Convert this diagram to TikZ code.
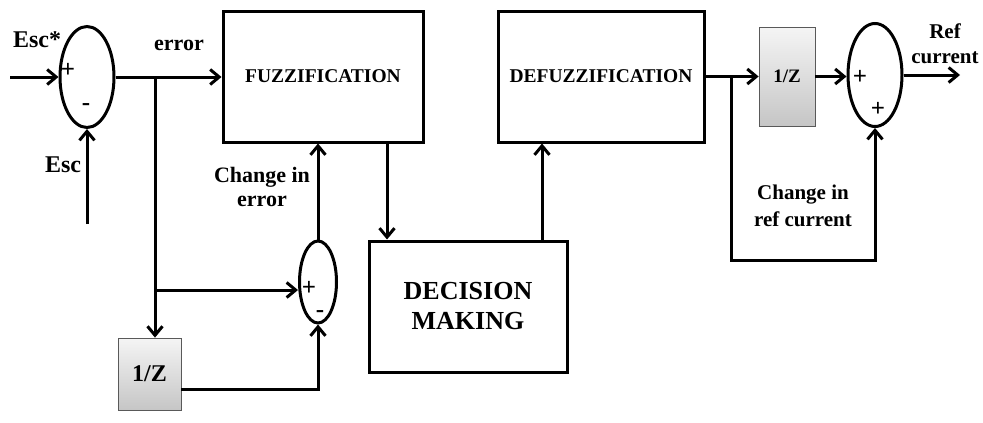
\documentclass[tikz,border=0pt]{standalone}
\usepackage{fontspec}
\setmainfont{Liberation Serif}
\usetikzlibrary{shapes.geometric,arrows.meta,calc}
\begin{document}
\begin{tikzpicture}[x=1pt,y=-1pt,
  line width=3pt,
  arr/.style={-{Straight Barb[length=9pt,width=15pt]}},
  blk/.style={draw,rectangle,inner sep=0pt,line width=3pt,font=\bfseries\fontsize{19.5}{22}\selectfont},
  sumnode/.style={draw,ellipse,inner sep=0pt,line width=3pt},
  zbox/.style={draw=gray!70!black,line width=0.8pt,rectangle,inner sep=0pt,top color=gray!8,bottom color=gray!45,font=\bfseries},
  lbl/.style={font=\bfseries\fontsize{22}{25}\selectfont,align=center,inner sep=0pt},
  sgn/.style={font=\bfseries\fontsize{25}{26}\selectfont,inner sep=0pt}]
\useasboundingbox (0,0) rectangle (983,423);

% blocks
\node[sumnode,minimum width=54pt,minimum height=101pt] (s1) at (87,77) {};
\node[blk,minimum width=200pt,minimum height=131pt] (fuzz) at (323,76.5) {FUZZIFICATION};
\node[blk,minimum width=206pt,minimum height=131pt] (defuzz) at (601,76.5) {DEFUZZIFICATION};
\node[blk,minimum width=198pt,minimum height=131pt,align=center,font=\bfseries\fontsize{26}{30}\selectfont] (dec) at (468,306.5) {DECISION\\MAKING};
\node[sumnode,minimum width=37pt,minimum height=82pt] (s2) at (318,282) {};
\node[zbox,minimum width=63pt,minimum height=72pt,font=\bfseries\fontsize{24}{27}\selectfont] (z1) at (149.5,374) {1/Z};
\node[zbox,minimum width=56pt,minimum height=99pt,font=\bfseries\fontsize{19}{22}\selectfont] (z2) at (787,76.5) {1/Z};
\node[sumnode,minimum width=54pt,minimum height=103pt] (s3) at (875,75) {};

% coordinates
\coordinate (in) at (10,77);
\coordinate (esc) at (87,224);
\coordinate (b1) at (155,77);
\coordinate (b2) at (155,290);
\coordinate (b3) at (731,77);
\coordinate (b4) at (731,260);
\coordinate (out) at (960,77);

% connectors
\draw[arr] (in) -- (s1.west);
\draw[arr] (esc) -- (s1.south);
\draw[arr] (s1.east) -- (s1.east -| fuzz.west);
\draw[arr] (b1) -- (b1 |- z1.north);
\draw[arr] (b2) -- (b2 -| s2.west);
\draw[arr] ($(z1.east)+(0,15)$) -| (s2.south);
\draw[arr] (s2.north) -- (s2.north |- fuzz.south);
\draw[arr] ([xshift=64pt]fuzz.south) -- ([xshift=64pt]fuzz.south |- dec.north);
\draw[arr] ([xshift=74pt]dec.north) -- ([xshift=74pt]dec.north |- defuzz.south);
\draw[arr] (defuzz.east) -- (defuzz.east -| z2.west);
\draw[arr] (z2.east) -- (z2.east -| s3.west);
\draw[arr] (s3.east) -- (s3.east -| out);
\draw[arr] (b3) -- (b4) -| (s3.south);

% labels
\node[lbl,font=\bfseries\fontsize{24}{27}\selectfont] (tescs) at (37,40) {Esc*};
\node[lbl,font=\bfseries\fontsize{24}{27}\selectfont] (tesc) at (63,165) {Esc};
\node[lbl] (terr) at (179,45) {error};
\node[lbl] (tce) at (262,187) {Change in\\[-1pt]error};
\node[lbl,font=\bfseries\fontsize{21}{25}\selectfont] (tref) at (945,44) {Ref\\current};
\node[lbl,font=\bfseries\fontsize{21}{27}\selectfont] (tcr) at (803,206) {Change in\\ref current};
\node[sgn] (p1) at (68,70) {+};
\node[sgn] (m1) at (86,107) {-};
\node[sgn] (p2) at (309,288) {+};
\node[sgn] (m2) at (320,314) {-};
\node[sgn] (p3) at (860,77) {+};
\node[sgn] (p4) at (878,109) {+};
\end{tikzpicture}
\end{document}
